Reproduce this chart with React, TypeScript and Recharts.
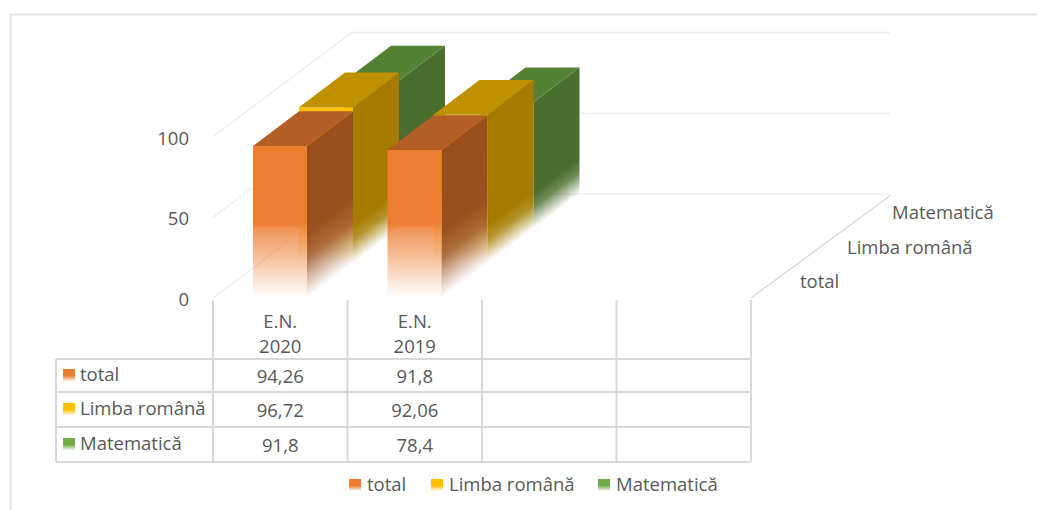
import { BarChart, Bar, XAxis, YAxis, CartesianGrid, Legend } from "recharts";

const CATEGORIES = ["E.N. 2020", "E.N. 2019", "", ""];
const TOTAL = [94.26, 91.8, null, null];
const ROMANA = [96.72, 92.06, null, null];
const MATE = [91.8, 78.4, null, null];
const SERIES_NAMES = ["total", "Limba română", "Matematică"];
const Y_TICKS = [0, 50, 100];

const data = CATEGORIES.map((category, i) => ({
  category,
  total: TOTAL[i],
  romana: ROMANA[i],
  mate: MATE[i],
}));

const FONT = "'Open Sans', sans-serif";
const FONT_SIZE = 18.5;
const TEXT = "#595959";
const LINE = "#d9d9d9";
const DX = 46;
const DY = 34.7;
const SLOPE = DY / DX;
const FRONT_FADE = 75;
const SIDE_FADE = [66, 38, 36];

const FRONT = ["#ed7d31", "#ffc000", "#70ad47"];
const TOP = ["#b35e25", "#bf9000", "#548235"];
const SIDE = ["#9a4f1d", "#a67c00", "#4a6e2d"];

const ROW_Y = [375, 409, 444];
const TABLE_LINES_Y = [359, 392, 427, 462];
const COLUMNS_X = [213, 347.5, 482, 616.5, 751];

function fmt(v: number | null) {
  return v === null ? "" : String(v).replace(".", ",");
}

function FadeStops({ color }: { color: string }) {
  return (
    <>
      <stop offset="0" stopColor={color} />
      <stop offset="0.08" stopColor={color} stopOpacity={0.82} />
      <stop offset="1" stopColor={color} stopOpacity={0} />
    </>
  );
}

// one 3D column, pushed back by the series depth
function makeColumn(depth: number) {
  return function Column(props: any) {
    const { x, y, width, height, index } = props;
    if (!height || height <= 0) return <g />;
    const ox = x + depth * DX;
    const oy = y - depth * DY;
    const bottom = oy + height;
    const right = ox + width;
    const frontId = `front-${depth}-${index}`;
    const sideId = `side-${depth}-${index}`;
    return (
      <g>
        <defs>
          <linearGradient id={frontId} gradientUnits="userSpaceOnUse" x1="0" x2="0" y1={bottom - FRONT_FADE} y2={bottom}>
            <FadeStops color={FRONT[depth]} />
          </linearGradient>
          <linearGradient
            id={sideId}
            gradientUnits="userSpaceOnUse"
            x1="0"
            x2="0"
            y1={bottom - SIDE_FADE[depth]}
            y2={bottom}
            gradientTransform={`matrix(1 ${-SLOPE} 0 1 0 ${SLOPE * right})`}
          >
            <stop offset="0" stopColor={SIDE[depth]} />
            <stop offset="0.4" stopColor={SIDE[depth]} stopOpacity={0.8} />
            <stop offset="1" stopColor={SIDE[depth]} stopOpacity={0} />
          </linearGradient>
        </defs>
        <polygon
          points={`${right},${oy} ${right + DX},${oy - DY} ${right + DX},${bottom - DY} ${right},${bottom}`}
          fill={`url(#${sideId})`}
        />
        <rect x={ox} y={oy} width={width} height={height} fill={`url(#${frontId})`} />
        <polygon
          points={`${ox},${oy} ${ox + DX},${oy - DY} ${right + DX},${oy - DY} ${right},${oy}`}
          fill={TOP[depth]}
        />
      </g>
    );
  };
}

// back wall gridline: runs up the side wall, then across the back
function WallLine(props: any) {
  const { x1, y1, x2, y2 } = props;
  const k = 3.02;
  return (
    <path
      key={y1}
      d={`M${x1},${y1} L${x1 + DX * k},${y1 - DY * 3} L${x2 + DX * k},${y2 - DY * 3}`}
      fill="none"
      stroke="#efefef"
      strokeWidth={1.5}
    />
  );
}

// axis label on top, table values for the same column below
function ColumnTick(props: any) {
  const { x, payload, index } = props;
  const parts = String(payload.value).split(" ");
  const rows = [TOTAL, ROMANA, MATE];
  return (
    <g fontFamily={FONT} fontSize={FONT_SIZE} fill={TEXT} textAnchor="middle">
      <text x={x} y={328}>{parts[0]}</text>
      <text x={x} y={353}>{parts[1]}</text>
      {rows.map((r, i) => (
        <text key={i} x={x} y={ROW_Y[i] + 8}>{fmt(r[index])}</text>
      ))}
    </g>
  );
}

function YTick(props: any) {
  const { x, y, payload } = props;
  return (
    <text x={x + 3} y={y + 8} textAnchor="end" fontFamily={FONT} fontSize={FONT_SIZE} fill={TEXT}>
      {payload.value}
    </text>
  );
}

function Swatch({ x, y, color }: { x: number; y: number; color: string }) {
  const id = `sw-${color.slice(1)}-${x}`;
  return (
    <>
      <defs>
        <linearGradient id={id} x1="0" x2="0" y1="0" y2="1">
          <stop offset="0.55" stopColor={color} />
          <stop offset="1" stopColor={color} stopOpacity={0.1} />
        </linearGradient>
      </defs>
      <rect x={x} y={y} width={12} height={12} fill={`url(#${id})`} />
    </>
  );
}

// table frame, row headers, depth axis labels and outer frame
function Decorations() {
  return (
    <g>
      <path d="M10.5,510 L10.5,14.5 L1037,14.5" fill="none" stroke="#e3e3e3" strokeWidth={2} />
      <path d={`M751,298 L891,195`} fill="none" stroke={LINE} strokeWidth={1.5} />
      {COLUMNS_X.map((x) => (
        <line key={x} x1={x} x2={x} y1={300} y2={462} stroke={LINE} strokeWidth={2} />
      ))}
      <line x1={56} x2={56} y1={359} y2={462} stroke={LINE} strokeWidth={2} />
      {TABLE_LINES_Y.map((y) => (
        <line key={y} x1={56} x2={751} y1={y} y2={y} stroke={LINE} strokeWidth={2} />
      ))}
      <g fontFamily={FONT} fontSize={FONT_SIZE} fill={TEXT}>
        {SERIES_NAMES.map((name, i) => (
          <g key={name}>
            <Swatch x={63} y={ROW_Y[i] - 6} color={FRONT[i]} />
            <text x={80} y={ROW_Y[i] + 6}>{name}</text>
          </g>
        ))}
        <text x={800} y={288}>{SERIES_NAMES[0]}</text>
        <text x={847} y={254}>{SERIES_NAMES[1]}</text>
        <text x={892} y={219}>{SERIES_NAMES[2]}</text>
      </g>
    </g>
  );
}

function LegendRow() {
  const lefts = [349, 431, 598];
  return (
    <div style={{ position: "relative", width: 420, height: 24, fontFamily: FONT, fontSize: FONT_SIZE, color: TEXT }}>
      {SERIES_NAMES.map((name, i) => (
        <div key={name} style={{ position: "absolute", left: lefts[i] - 349, top: 0, lineHeight: "24px", whiteSpace: "nowrap" }}>
          <span
            style={{
              display: "inline-block",
              width: 12,
              height: 12,
              marginRight: 6,
              background: `linear-gradient(${FRONT[i]} 55%, #ffffff)`,
            }}
          />
          {name}
        </div>
      ))}
    </div>
  );
}

export default function App() {
  return (
    <div style={{ position: "absolute", left: 0, top: 0, width: 1037, height: 510 }}>
      <BarChart
        width={1037}
        height={510}
        data={data}
        barSize={54}
        barGap={-54}
        margin={{ left: 153, right: 286, top: 136.7, bottom: 12 }}
      >
        <CartesianGrid vertical={false} horizontal={(p: any) => <WallLine {...p} />} />
        <Decorations />
        <XAxis
          dataKey="category"
          height={200}
          interval={0}
          axisLine={false}
          tickLine={false}
          tick={(p: any) => <ColumnTick {...p} />}
        />
        <YAxis
          width={60}
          domain={[0, 100]}
          ticks={Y_TICKS}
          axisLine={false}
          tickLine={false}
          tickMargin={21}
          tick={(p: any) => <YTick {...p} />}
        />
        <Bar dataKey="mate" name={SERIES_NAMES[2]} shape={makeColumn(2)} isAnimationActive={false} />
        <Bar dataKey="romana" name={SERIES_NAMES[1]} shape={makeColumn(1)} isAnimationActive={false} />
        <Bar dataKey="total" name={SERIES_NAMES[0]} shape={makeColumn(0)} isAnimationActive={false} />
        <Legend
          layout="horizontal"
          verticalAlign="middle"
          content={() => <LegendRow />}
          wrapperStyle={{ left: 349, top: 472, width: 420, bottom: "auto" }}
        />
      </BarChart>
    </div>
  );
}
